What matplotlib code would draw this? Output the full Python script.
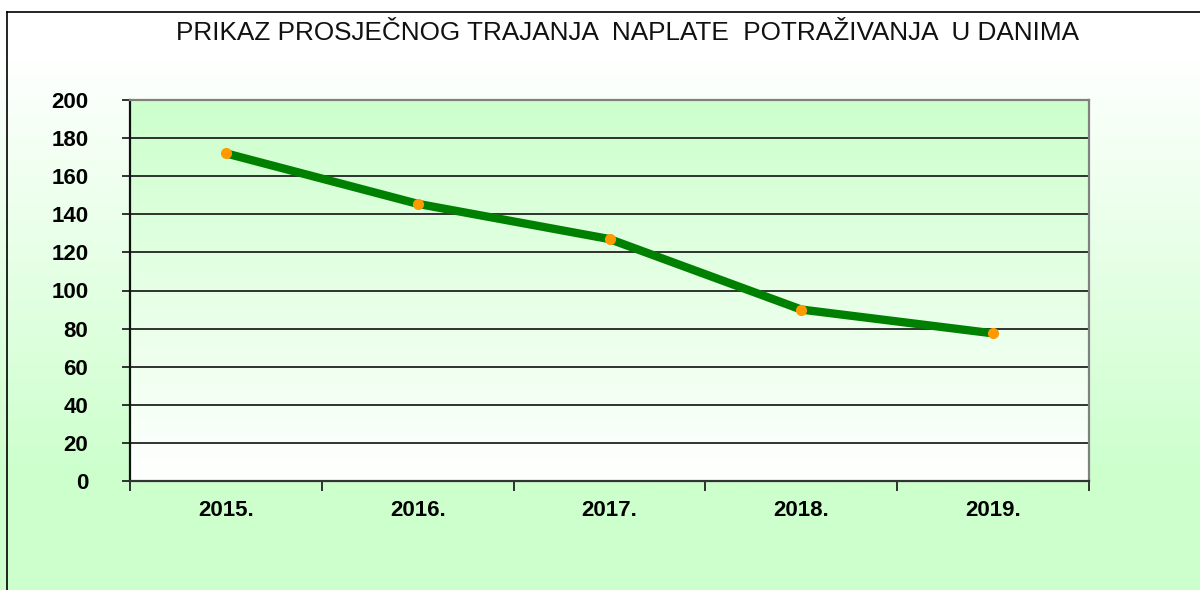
import numpy as np
import matplotlib
matplotlib.use("Agg")
import matplotlib.pyplot as plt
from matplotlib.colors import LinearSegmentedColormap
from matplotlib.lines import Line2D

# data
years = ["2015.", "2016.", "2017.", "2018.", "2019."]
days = [172, 145.5, 127, 90, 77.5]
y_ticks = [0, 20, 40, 60, 80, 100, 120, 140, 160, 180, 200]

plt.rcParams['font.family'] = ['Liberation Sans', 'DejaVu Sans']

W, H = 1200, 590
fig = plt.figure(figsize=(12, 5.9), dpi=100)

# figure background: white on top -> light green lower down
bg = fig.add_axes([0, 0, 1, 1], zorder=-10)
cmap_fig = LinearSegmentedColormap.from_list(
    "figbg", [(0, "#ffffff"), (50 / H, "#ffffff"), (480 / H, "#ccffcc"), (1, "#ccffcc")])
grad = np.linspace(0, 1, 512).reshape(-1, 1)
bg.imshow(grad, cmap=cmap_fig, aspect="auto", extent=[0, 1, 0, 1], origin="upper")
bg.set_xlim(0, 1)
bg.set_ylim(0, 1)
bg.axis("off")

# border of the chart box (only top and left visible)
fig.add_artist(Line2D([7 / W, 1], [1 - 12 / H, 1 - 12 / H], color="black", lw=1.2))
fig.add_artist(Line2D([7 / W, 7 / W], [0, 1 - 12 / H], color="black", lw=1.2))

ax = fig.add_axes([130 / W, 1 - 481 / H, (1089 - 130) / W, (481 - 100) / H])
ax.set_facecolor("none")

# plot area background: light green on top -> white at the bottom
cmap_ax = LinearSegmentedColormap.from_list("axbg", ["#ccffcc", "#ffffff"])
ax.imshow(np.linspace(0, 1, 256).reshape(-1, 1), cmap=cmap_ax, aspect="auto",
          extent=[0, 1, 0, 1], origin="upper", transform=ax.transAxes, zorder=0)

x = np.arange(len(years))
ax.plot(x, days, color="#008000", lw=6, solid_capstyle="butt", zorder=3)
ax.plot(x, days, "o", color="#ff9900", ms=8, mec="none", zorder=4)

ax.set_xlim(-0.5, len(years) - 0.5)
ax.set_ylim(0, 200)
ax.set_yticks(y_ticks)
ax.set_yticklabels([str(v) for v in y_ticks], fontsize=16, fontweight="bold")
ax.set_xticks(x)
ax.set_xticklabels(years, fontsize=16, fontweight="bold")
ax.set_xticks(np.arange(-0.5, len(years)), minor=True)

ax.grid(axis="y", color="#222222", lw=1.3, zorder=1)
ax.set_axisbelow(False)
for gl in ax.get_ygridlines():
    gl.set_zorder(1)

ax.tick_params(axis="y", direction="out", length=6, width=1.3, color="#222222", pad=24)
ax.tick_params(axis="x", which="major", length=0, pad=14)
ax.tick_params(axis="x", which="minor", direction="out", length=7, width=1.3, color="#222222")

ax.spines["left"].set_color("#111111")
ax.spines["bottom"].set_color("#333333")
ax.spines["top"].set_color("#808080")
ax.spines["right"].set_color("#808080")
for s in ax.spines.values():
    s.set_linewidth(1.6)
    s.set_zorder(5)

fig.text(627 / W, 1 - 33 / H, "PRIKAZ PROSJEČNOG TRAJANJA  NAPLATE  POTRAŽIVANJA  U DANIMA",
         ha="center", va="center", fontsize=18.8, color="#111111")

fig.savefig("out.png", dpi=100)
